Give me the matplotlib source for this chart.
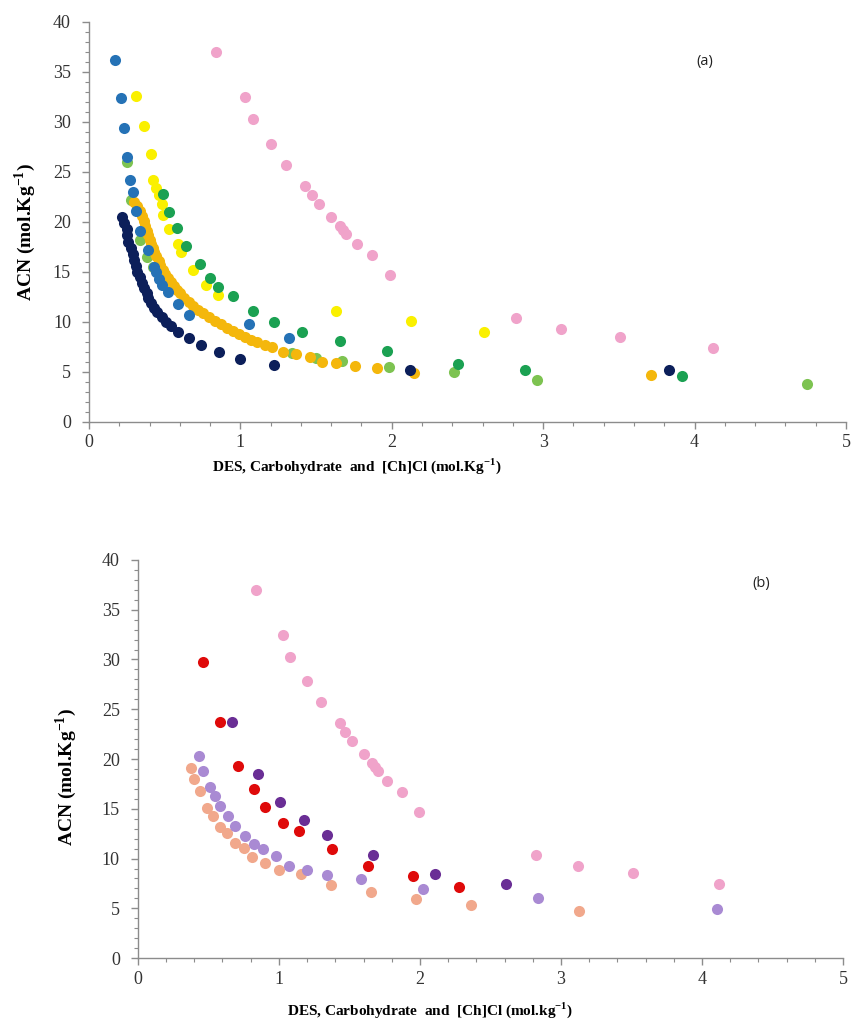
import matplotlib
matplotlib.use("Agg")
import matplotlib.pyplot as plt
from matplotlib.ticker import MultipleLocator

plt.rcParams['font.family'] = ['Liberation Serif', 'DejaVu Serif']
plt.rcParams['mathtext.fontset'] = 'custom'
plt.rcParams['mathtext.rm'] = 'Liberation Serif'
plt.rcParams['mathtext.bf'] = 'Liberation Serif:bold'

# --- panel (a) series ---
pink_x = [0.84, 1.03, 1.08, 1.20, 1.30, 1.43, 1.47, 1.52, 1.60, 1.66, 1.68, 1.70,
          1.77, 1.87, 1.99, 2.82, 3.12, 3.51, 4.12]
pink_y = [37.0, 32.5, 30.3, 27.8, 25.7, 23.6, 22.7, 21.8, 20.5, 19.6, 19.2, 18.8,
          17.8, 16.7, 14.7, 10.4, 9.3, 8.5, 7.4]

navy_x = [0.22, 0.23, 0.25, 0.25, 0.26, 0.28, 0.29, 0.30, 0.31, 0.32, 0.34, 0.35,
          0.36, 0.38, 0.39, 0.41, 0.43, 0.45, 0.48, 0.51, 0.54, 0.59, 0.66, 0.74,
          0.86, 1.00, 1.22, 2.12, 3.83]
navy_y = [20.5, 19.9, 19.3, 18.7, 18.0, 17.4, 16.8, 16.2, 15.6, 15.0, 14.5, 13.9,
          13.4, 12.9, 12.4, 11.9, 11.4, 11.0, 10.5, 10.0, 9.6, 9.0, 8.4, 7.7,
          7.0, 6.3, 5.7, 5.2, 5.2]

blue_x = [0.17, 0.21, 0.23, 0.25, 0.27, 0.29, 0.31, 0.34, 0.39, 0.43, 0.44, 0.46,
          0.48, 0.52, 0.59, 0.66, 1.06, 1.32]
blue_y = [36.2, 32.4, 29.4, 26.5, 24.2, 23.0, 21.1, 19.1, 17.2, 15.5, 15.0, 14.3,
          13.7, 13.0, 11.8, 10.7, 9.8, 8.4]

yellow_x = [0.31, 0.36, 0.41, 0.42, 0.44, 0.46, 0.48, 0.49, 0.53, 0.59, 0.61, 0.69,
            0.77, 0.85, 1.63, 2.13, 2.61]
yellow_y = [32.6, 29.6, 26.8, 24.2, 23.4, 22.7, 21.8, 20.7, 19.3, 17.8, 17.0, 15.2,
            13.7, 12.7, 11.1, 10.1, 9.0]

green_x = [0.49, 0.53, 0.58, 0.64, 0.73, 0.80, 0.85, 0.95, 1.08, 1.22, 1.41, 1.66,
           1.97, 2.44, 2.88, 3.92]
green_y = [22.8, 21.0, 19.4, 17.6, 15.8, 14.4, 13.5, 12.6, 11.1, 10.0, 9.0, 8.1,
           7.1, 5.8, 5.2, 4.6]

lgreen_x = [0.25, 0.28, 0.34, 0.38, 0.42, 1.34, 1.50, 1.67, 1.98, 2.41, 2.96, 4.74]
lgreen_y = [26.0, 22.2, 18.2, 16.5, 15.5, 6.85, 6.35, 6.1, 5.45, 5.0, 4.2, 3.8]

orange_x = [0.30, 0.32, 0.34, 0.35, 0.36, 0.37, 0.38, 0.39, 0.40, 0.41, 0.42, 0.43,
            0.44, 0.46, 0.47, 0.49, 0.50, 0.52, 0.54, 0.56, 0.58, 0.60, 0.63, 0.66,
            0.69, 0.72, 0.75, 0.79, 0.83, 0.87, 0.91, 0.95, 0.99, 1.03, 1.07, 1.11,
            1.16, 1.21, 1.28, 1.37, 1.46, 1.54, 1.63, 1.76, 1.90, 2.15, 3.71]
orange_y = [22.0, 21.6, 21.1, 20.6, 20.1, 19.6, 19.1, 18.7, 18.2, 17.8, 17.4, 17.0,
            16.6, 16.1, 15.7, 15.2, 14.8, 14.4, 14.0, 13.6, 13.2, 12.9, 12.4, 12.0,
            11.6, 11.2, 10.9, 10.5, 10.1, 9.8, 9.4, 9.1, 8.8, 8.5, 8.2, 7.95,
            7.7, 7.45, 7.0, 6.8, 6.5, 6.0, 5.85, 5.6, 5.35, 4.85, 4.7]

# --- panel (b) series ---
red_x = [0.46, 0.58, 0.71, 0.82, 0.90, 1.03, 1.14, 1.38, 1.63, 1.95, 2.28]
red_y = [29.7, 23.7, 19.3, 17.0, 15.2, 13.6, 12.8, 10.95, 9.3, 8.2, 7.1]

purple_x = [0.67, 0.85, 1.01, 1.18, 1.34, 1.67, 2.11, 2.61]
purple_y = [23.7, 18.5, 15.65, 13.9, 12.4, 10.4, 8.4, 7.4]

lpurple_x = [0.43, 0.46, 0.51, 0.55, 0.58, 0.64, 0.69, 0.76, 0.82, 0.89, 0.98, 1.07,
             1.20, 1.34, 1.58, 2.02, 2.84, 4.11]
lpurple_y = [20.3, 18.8, 17.2, 16.3, 15.3, 14.3, 13.3, 12.3, 11.5, 10.95, 10.3, 9.3,
             8.9, 8.3, 7.9, 6.9, 6.06, 4.9]

salmon_x = [0.38, 0.40, 0.44, 0.49, 0.53, 0.58, 0.63, 0.69, 0.75, 0.81, 0.90, 1.00,
            1.16, 1.37, 1.65, 1.97, 2.36, 3.13]
salmon_y = [19.1, 18.0, 16.8, 15.1, 14.3, 13.2, 12.6, 11.6, 11.1, 10.2, 9.6, 8.9,
            8.4, 7.3, 6.6, 5.9, 5.3, 4.7]

C_PINK = '#F0A3CA'
S = 64


def style_axes(ax):
    ax.set_xlim(0, 5)
    ax.set_ylim(0, 40)
    ax.spines['top'].set_visible(False)
    ax.spines['right'].set_visible(False)
    for sp in ('left', 'bottom'):
        ax.spines[sp].set_color('#8c8c8c')
        ax.spines[sp].set_linewidth(1.0)
    ax.xaxis.set_major_locator(MultipleLocator(1))
    ax.xaxis.set_minor_locator(MultipleLocator(0.2))
    ax.yaxis.set_major_locator(MultipleLocator(5))
    ax.yaxis.set_minor_locator(MultipleLocator(1))
    ax.tick_params(which='major', direction='out', length=5, width=1,
                   color='#8c8c8c', labelsize=13, labelcolor='#333333')
    ax.tick_params(axis='x', which='major', pad=4)
    ax.tick_params(axis='y', which='major', pad=8)
    ax.tick_params(which='minor', direction='out', length=3, width=0.8,
                   color='#8c8c8c')


fig = plt.figure(figsize=(8.51, 10.28), dpi=100)

# (a)
ax1 = fig.add_axes([0.1046, 0.5895, 0.8894, 0.3891])
ax1.scatter(pink_x, pink_y, s=S, color=C_PINK, lw=0, zorder=2)
ax1.scatter(lgreen_x, lgreen_y, s=S, color='#7DC351', lw=0, zorder=3)
ax1.scatter(orange_x, orange_y, s=S, color='#F4B70C', lw=0, zorder=4)
ax1.scatter(yellow_x, yellow_y, s=S, color='#FAF000', lw=0, zorder=5)
ax1.scatter(green_x, green_y, s=S, color='#1BA152', lw=0, zorder=5)
ax1.scatter(blue_x, blue_y, s=S, color='#2572B6', lw=0, zorder=6)
ax1.scatter(navy_x, navy_y, s=S, color='#0C1F5A', lw=0, zorder=7)
style_axes(ax1)
ax1.set_ylabel(r'ACN (mol.Kg$^{\mathbf{-1}}$)', fontsize=14, fontweight='bold')
ax1.set_xlabel(r'DES, Carbohydrate  and  [Ch]Cl (mol.Kg$^{\mathbf{-1}}$)',
               fontsize=11, fontweight='bold')
ax1.xaxis.set_label_coords(0.354, -0.085)
ax1.yaxis.set_label_coords(-0.068, 0.475)
ax1.text(0.803, 0.9, '(a)', transform=ax1.transAxes, fontsize=10.5, va='center',
         family='Open Sans', color='#222222')

# (b)
ax2 = fig.add_axes([0.162, 0.068, 0.8286, 0.3873])
ax2.scatter(pink_x, pink_y, s=S, color=C_PINK, lw=0, zorder=2)
ax2.scatter(salmon_x, salmon_y, s=S, color='#F1A88C', lw=0, zorder=3)
ax2.scatter(lpurple_x, lpurple_y, s=S, color='#A98AD3', lw=0, zorder=4)
ax2.scatter(red_x, red_y, s=S, color='#DF0A0A', lw=0, zorder=5)
ax2.scatter(purple_x, purple_y, s=S, color='#6A2E95', lw=0, zorder=6)
style_axes(ax2)
ax2.set_ylabel(r'ACN (mol.Kg$^{\mathbf{-1}}$)', fontsize=14, fontweight='bold')
ax2.set_xlabel(r'DES, Carbohydrate  and  [Ch]Cl (mol.kg$^{\mathbf{-1}}$)',
               fontsize=11, fontweight='bold')
ax2.xaxis.set_label_coords(0.414, -0.105)
ax2.yaxis.set_label_coords(-0.083, 0.455)
ax2.text(0.871, 0.942, '(b)', transform=ax2.transAxes, fontsize=10.5, va='center',
         family='Open Sans', color='#222222')

fig.savefig('out.png', dpi=100)
